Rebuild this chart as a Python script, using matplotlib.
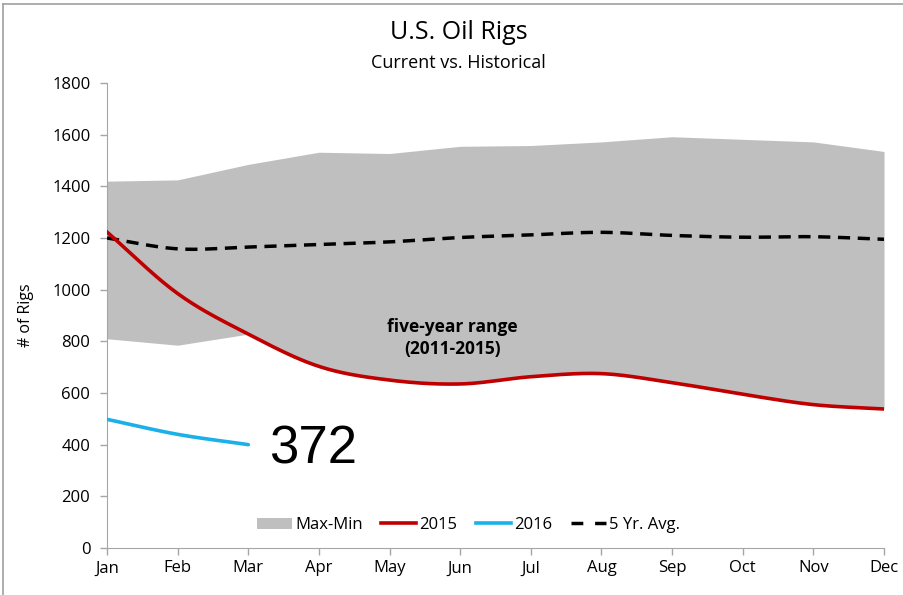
import numpy as np
import matplotlib
matplotlib.use('Agg')
import matplotlib.pyplot as plt
from matplotlib.patches import Patch
from matplotlib.lines import Line2D

months = ['Jan', 'Feb', 'Mar', 'Apr', 'May', 'Jun', 'Jul', 'Aug', 'Sep', 'Oct', 'Nov', 'Dec']
range_max = [1420, 1425, 1485, 1532, 1527, 1555, 1558, 1572, 1592, 1582, 1572, 1535]
range_min = [810, 785, 828, 703, 650, 635, 663, 675, 640, 595, 555, 538]
rigs_2015 = [1223, 985, 828, 703, 650, 635, 663, 675, 640, 595, 555, 538]
rigs_2016 = [498, 440, 400]
avg_5yr = [1200, 1158, 1165, 1175, 1185, 1202, 1212, 1222, 1210, 1203, 1205, 1195]
latest = '372'


def smooth(y, n=30):
    # catmull-rom style smoothing, like excel's smoothed line
    y = np.asarray(y, dtype=float)
    x = np.arange(len(y))
    p = np.concatenate([[2 * y[0] - y[1]], y, [2 * y[-1] - y[-2]]])
    xs, ys = [], []
    for i in range(len(y) - 1):
        t = np.linspace(0, 1, n, endpoint=False)
        p0, p1, p2, p3 = p[i], p[i + 1], p[i + 2], p[i + 3]
        m1 = (p2 - p0) / 2
        m2 = (p3 - p1) / 2
        h00 = 2 * t**3 - 3 * t**2 + 1
        h10 = t**3 - 2 * t**2 + t
        h01 = -2 * t**3 + 3 * t**2
        h11 = t**3 - t**2
        xs.append(x[i] + t)
        ys.append(h00 * p1 + h10 * m1 + h01 * p2 + h11 * m2)
    xs.append([x[-1]])
    ys.append([y[-1]])
    return np.concatenate(xs), np.concatenate(ys)


plt.rcParams['font.family'] = ['Open Sans', 'DejaVu Sans']
fig = plt.figure(figsize=(9.04, 5.95), dpi=100)
ax = fig.add_axes([0.1184, 0.079, 0.8595, 0.7815])

x = np.arange(len(months))
xs15, ys15 = smooth(rigs_2015)
# band: linear top, bottom follows the 2015 curve where it is the minimum
lower = np.interp(xs15, x, range_min)
lower = np.where(xs15 >= 2, np.minimum(lower, ys15), lower)
upper = np.interp(xs15, x, range_max)
ax.fill_between(xs15, lower, upper, color='#bfbfbf', linewidth=0, zorder=1)

xa, ya = smooth(avg_5yr)
ax.plot(xa, ya, color='black', linewidth=2.5, dashes=(3.5, 2.2), zorder=3)
ax.plot(xs15, ys15, color='#c00000', linewidth=2.6, zorder=4)
xs16, ys16 = smooth(rigs_2016)
ax.plot(xs16, ys16, color='#1ab0e8', linewidth=2.6, zorder=4, solid_capstyle='round')

ax.text(2.3, 380, latest, fontsize=38, family='Liberation Sans', va='center', ha='left')
ax.text(4.89, 813, 'five-year range\n(2011-2015)', fontsize=12.5, fontweight='bold',
        ha='center', va='center', linespacing=1.3)

ax.set_xlim(0, 11)
ax.set_ylim(0, 1800)
ax.set_xticks(x)
ax.set_xticklabels(months)
ax.set_yticks(range(0, 1801, 200))
ax.tick_params(axis='both', labelsize=12, color='#a6a6a6', length=5, width=1, direction='out', pad=4)
ax.tick_params(axis='y', pad=7)
for s in ['top', 'right']:
    ax.spines[s].set_visible(False)
for s in ['left', 'bottom']:
    ax.spines[s].set_color('#a6a6a6')
ax.set_ylabel('# of Rigs', fontsize=11.5, labelpad=13)

handles = [Patch(facecolor='#bfbfbf', edgecolor='none'),
           Line2D([], [], color='#c00000', linewidth=2.6),
           Line2D([], [], color='#1ab0e8', linewidth=2.6),
           Line2D([], [], color='black', linewidth=2.5, dashes=(3.4, 3.4))]
ax.legend(handles, ['Max-Min', '2015', '2016', '5 Yr. Avg.'], ncol=4, frameon=False,
          loc='center', bbox_to_anchor=(0.465, 0.049), fontsize=12, handlelength=2.1,
          handletextpad=0.2, columnspacing=1.1)

fig.text(0.507, 0.9345, 'U.S. Oil Rigs', fontsize=18, ha='center', va='baseline')
fig.text(0.507, 0.8857, 'Current vs. Historical', fontsize=13, ha='center', va='baseline')

# outer frame (top and left edges visible)
fig.add_artist(Line2D([0.003, 1], [0.993, 0.993], color='#a0a0a0', linewidth=1.2, transform=fig.transFigure))
fig.add_artist(Line2D([0.003, 0.003], [0, 0.993], color='#a0a0a0', linewidth=1.2, transform=fig.transFigure))

fig.savefig('out.png', dpi=100)
